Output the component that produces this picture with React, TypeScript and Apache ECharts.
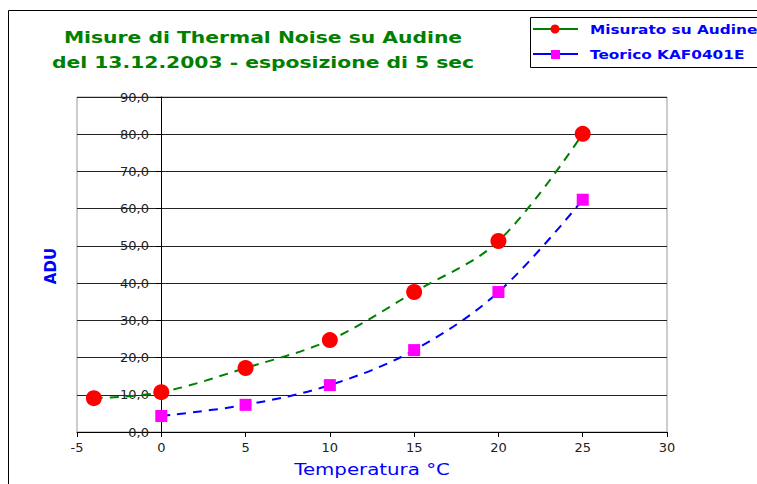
import React, { useEffect, useRef } from "react";
import * as echarts from "echarts";

const measuredX = [-4, 0, 5, 10, 15, 20, 25];
const measuredY = [9.1, 10.7, 17.2, 24.7, 37.6, 51.3, 80.1];
const theoryX = [0, 5, 10, 15, 20, 25];
const theoryY = [4.3, 7.3, 12.6, 22.0, 37.6, 62.4];
const seriesNames = ["Misurato su Audine", "Teorico KAF0401E"];
const titleLines = ["Misure di Thermal Noise su Audine", "del 13.12.2003 - esposizione di 5 sec"];
const xAxisName = "Temperatura °C";
const yAxisName = "ADU";

export default function App() {
  const ref = useRef<HTMLDivElement>(null);
  useEffect(() => {
    const chart = echarts.init(ref.current!, null, { renderer: "svg" });
    const font = "DejaVu Sans";
    const green = "#008000";
    const blue = "#0000ff";
    chart.setOption({
      animation: false,
      backgroundColor: "#fff",
      textStyle: { fontFamily: font },
      graphic: [
        {
          type: "rect",
          shape: { x: 8.5, y: 10.5, width: 900, height: 600 },
          style: { fill: "none", stroke: "#000", lineWidth: 1 },
          silent: true,
          z: -10,
        },
        ...titleLines.map((t, i) => ({
          type: "text",
          x: 263,
          y: 37 + i * 25,
          scaleX: 1.27,
          style: {
            text: t,
            fill: green,
            font: `bold 16px "${font}"`,
            align: "center",
            verticalAlign: "middle",
          },
        })),
        {
          type: "text",
          x: 372,
          y: 470,
          scaleX: 1.32,
          style: {
            text: xAxisName,
            fill: blue,
            font: `15px "${font}"`,
            align: "center",
            verticalAlign: "middle",
          },
        },
        {
          type: "text",
          x: 51,
          y: 266,
          rotation: Math.PI / 2,
          style: {
            text: yAxisName,
            fill: blue,
            font: `bold 15px "${font}"`,
            align: "center",
            verticalAlign: "middle",
          },
        },
        // legend
        {
          type: "rect",
          shape: { x: 530.5, y: 17.5, width: 300, height: 50 },
          style: { fill: "#fff", stroke: "#000", lineWidth: 1 },
          z: 10,
        },
        {
          type: "line",
          shape: { x1: 533, y1: 29, x2: 578, y2: 29 },
          style: { stroke: green, lineWidth: 2 },
          z: 11,
        },
        {
          type: "circle",
          shape: { cx: 555, cy: 29, r: 4.5 },
          style: { fill: "#ff0000" },
          z: 12,
        },
        {
          type: "text",
          x: 590,
          y: 29,
          scaleX: 1.18,
          style: {
            text: seriesNames[0],
            fill: blue,
            font: `bold 13px "${font}"`,
            align: "left",
            verticalAlign: "middle",
          },
          z: 12,
        },
        {
          type: "line",
          shape: { x1: 533, y1: 54, x2: 578, y2: 54 },
          style: { stroke: blue, lineWidth: 2 },
          z: 11,
        },
        {
          type: "rect",
          shape: { x: 551, y: 50, width: 9, height: 9 },
          style: { fill: "#ff00ff" },
          z: 12,
        },
        {
          type: "text",
          x: 590,
          y: 54,
          scaleX: 1.18,
          style: {
            text: seriesNames[1],
            fill: blue,
            font: `bold 13px "${font}"`,
            align: "left",
            verticalAlign: "middle",
          },
          z: 12,
        },
      ],
      grid: {
        left: 77,
        right: 90,
        top: 97,
        bottom: 52,
        show: true,
        borderColor: "#999",
        borderWidth: 1,
      },
      xAxis: {
        type: "value",
        min: -5,
        max: 30,
        interval: 5,
        axisLine: { show: true, onZero: false, lineStyle: { color: "#000" } },
        axisTick: { show: true, length: 5, lineStyle: { color: "#000" } },
        axisLabel: { color: "#222", fontSize: 13, margin: 9, fontFamily: font },
        splitLine: { show: false },
      },
      yAxis: {
        type: "value",
        min: 0,
        max: 90,
        interval: 10,
        offset: -84,
        axisLine: { show: true, onZero: false, lineStyle: { color: "#000" } },
        axisTick: { show: true, length: 5, lineStyle: { color: "#000" } },
        axisLabel: {
          color: "#222",
          fontSize: 13,
          margin: 12,
          fontFamily: font,
          formatter: (v: number) => v.toFixed(1).replace(".", ","),
        },
        splitLine: { show: true, lineStyle: { color: "#222", width: 1 } },
      },
      series: [
        {
          name: seriesNames[0],
          type: "line",
          data: measuredX.map((x, i) => [x, measuredY[i]]),
          smooth: 0.35,
          symbol: "circle",
          symbolSize: 16,
          itemStyle: { color: "#ff0000" },
          lineStyle: { color: green, width: 2, type: [9, 7] },
        },
        {
          name: seriesNames[1],
          type: "line",
          data: theoryX.map((x, i) => [x, theoryY[i]]),
          smooth: 0.35,
          symbol: "rect",
          symbolSize: 12,
          itemStyle: { color: "#ff00ff" },
          lineStyle: { color: blue, width: 2, type: [9, 7] },
        },
      ],
    });
    return () => chart.dispose();
  }, []);
  return (
    <div
      ref={ref}
      style={{ position: "fixed", left: 0, top: 0, width: 757, height: 484 }}
    />
  );
}
